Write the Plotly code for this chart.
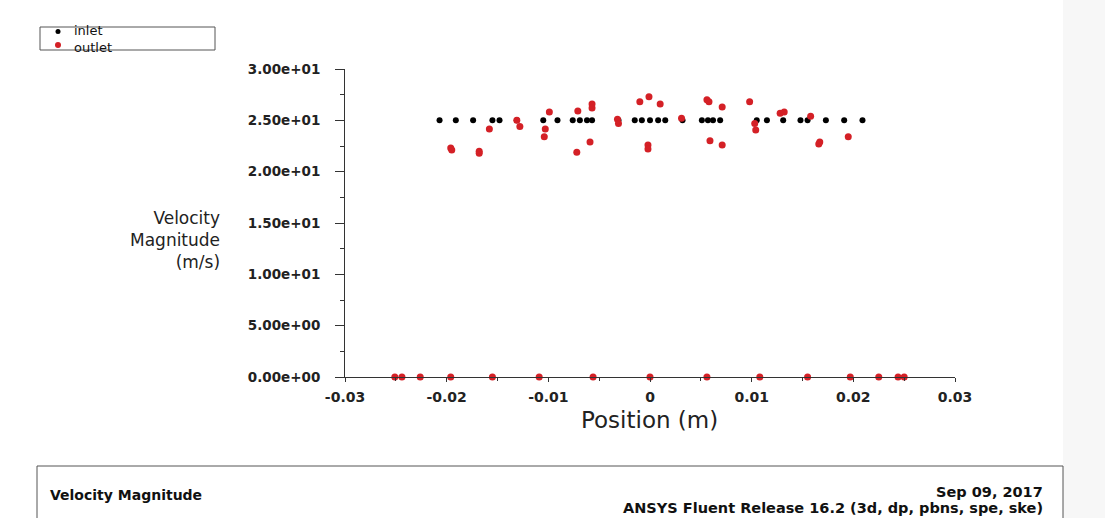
import plotly.graph_objects as go

# ---------------- data ----------------
inlet_x = [-0.0207, -0.0191, -0.0174, -0.0155, -0.0148, -0.0131, -0.0105, -0.0091,
           -0.0076, -0.0069, -0.0062, -0.0057, -0.0031, -0.0015, -0.0008, 0.0,
           0.0008, 0.0015, 0.0032, 0.0051, 0.0057, 0.0062, 0.0069, 0.0105,
           0.0115, 0.0131, 0.0148, 0.0155, 0.0173, 0.0191, 0.0209]
inlet_y = [25.0] * len(inlet_x)

outlet_x = [-0.0251, -0.0244, -0.0226, -0.0196, -0.0155, -0.0109, -0.0056, 0.0,
            0.0056, 0.0108, 0.0155, 0.0197, 0.0225, 0.0244, 0.0250,
            -0.0196, -0.0195, -0.0168, -0.0168, -0.0158, -0.0131, -0.0128, -0.0099,
            -0.0103, -0.0104, -0.0071, -0.0057, -0.0057, -0.0072, -0.0059, -0.0032,
            -0.0031, -0.0010, -0.0001, 0.0010, -0.0002, -0.0002, 0.0031, 0.0056,
            0.0058, 0.0071, 0.0059, 0.0071, 0.0098, 0.0103, 0.0104, 0.0128,
            0.0132, 0.0158, 0.0167, 0.0166, 0.0195]
outlet_y = [0.0, 0.0, 0.0, 0.0, 0.0, 0.0, 0.0, 0.0,
            0.0, 0.0, 0.0, 0.0, 0.0, 0.0, 0.0,
            22.3, 22.1, 22.0, 21.8, 24.15, 25.0, 24.4, 25.8,
            24.15, 23.4, 25.9, 26.6, 26.2, 21.9, 22.9, 25.1,
            24.7, 26.8, 27.3, 26.6, 22.6, 22.2, 25.2, 27.0,
            26.8, 26.3, 23.0, 22.6, 26.8, 24.7, 24.05, 25.7,
            25.8, 25.4, 22.9, 22.7, 23.4]

y_tick_vals = [0, 5, 10, 15, 20, 25, 30]
y_tick_text = ["0.00e+00", "5.00e+00", "1.00e+01", "1.50e+01", "2.00e+01", "2.50e+01", "3.00e+01"]
x_tick_vals = [-0.03, -0.02, -0.01, 0, 0.01, 0.02, 0.03]
x_tick_text = ["-0.03", "-0.02", "-0.01", "0", "0.01", "0.02", "0.03"]

series_names = ["inlet", "outlet"]
series_colors = ["#000000", "#d42026"]
y_title_lines = ["Velocity", "Magnitude", "(m/s)"]

# ---------------- figure ----------------
W, H = 1105, 518
L, R, T, B = 345, 150, 69, 141
PW, PH = W - L - R, H - T - B


def px(x):
    return (x - L) / PW


def py(y):
    return (H - B - y) / PH


FONT = "DejaVu Sans, Liberation Sans, Arial, sans-serif"

fig = go.Figure()
fig.add_trace(go.Scatter(x=inlet_x, y=inlet_y, mode="markers", name=series_names[0],
                         marker=dict(color=series_colors[0], size=6, line=dict(width=0)),
                         cliponaxis=False))
fig.add_trace(go.Scatter(x=outlet_x, y=outlet_y, mode="markers", name=series_names[1],
                         marker=dict(color=series_colors[1], size=7, line=dict(width=0)),
                         cliponaxis=False))

shapes = [
    # faint grey strip at the right edge of the screenshot
    dict(type="rect", xref="paper", yref="paper", x0=px(1063), x1=px(1110), y0=py(-5), y1=py(523),
         fillcolor="#f7f7f7", line=dict(width=0), layer="below"),
    # legend box
    dict(type="rect", xref="paper", yref="paper", x0=px(40), x1=px(215), y0=py(50), y1=py(27),
         line=dict(color="#555555", width=1), fillcolor="rgba(0,0,0,0)"),
    dict(type="circle", xref="paper", yref="paper", x0=px(55.5), x1=px(60.5), y0=py(34), y1=py(29),
         fillcolor=series_colors[0], line=dict(width=0)),
    dict(type="circle", xref="paper", yref="paper", x0=px(55), x1=px(61), y0=py(48), y1=py(42),
         fillcolor=series_colors[1], line=dict(width=0)),
    # bottom info box
    dict(type="rect", xref="paper", yref="paper", x0=px(37), x1=px(1063), y0=py(530), y1=py(466),
         line=dict(color="#555555", width=1), fillcolor="rgba(0,0,0,0)"),
]

annotations = [
    dict(text="<br>".join(series_names), x=px(73), y=py(38.5), xref="paper", yref="paper",
         xanchor="left", yanchor="middle", align="left", showarrow=False, borderpad=0,
         font=dict(family=FONT, size=13, color="#111111")),
    dict(text="<br>".join(y_title_lines), x=px(221), y=py(240), xref="paper", yref="paper",
         xanchor="right", yanchor="middle", align="right", showarrow=False, borderpad=0,
         font=dict(family=FONT, size=17, color="#222222")),
    dict(text="Position (m)", x=px(649), y=py(420), xref="paper", yref="paper",
         xanchor="center", yanchor="middle", showarrow=False,
         font=dict(family=FONT, size=23, color="#222222")),
    dict(text="<b>Velocity Magnitude</b>", x=px(48), y=py(495), xref="paper", yref="paper",
         xanchor="left", yanchor="middle", showarrow=False,
         font=dict(family=FONT, size=14, color="#111111")),
    dict(text="<b>Sep 09, 2017</b>", x=px(1044), y=py(492), xref="paper", yref="paper",
         xanchor="right", yanchor="middle", showarrow=False, borderpad=0,
         font=dict(family=FONT, size=14.5, color="#111111")),
    dict(text="<b>ANSYS Fluent Release 16.2 (3d, dp, pbns, spe, ske)</b>", x=px(1044), y=py(508),
         xref="paper", yref="paper", xanchor="right", yanchor="middle", showarrow=False, borderpad=0,
         font=dict(family=FONT, size=14.5, color="#111111")),
]

fig.update_layout(
    width=W, height=H,
    margin=dict(l=L, r=R, t=T, b=B, pad=0),
    paper_bgcolor="white", plot_bgcolor="white",
    showlegend=False,
    shapes=shapes, annotations=annotations,
    xaxis=dict(range=[-0.03, 0.03], tickvals=x_tick_vals, ticktext=x_tick_text,
               showgrid=False, zeroline=False, showline=True, linecolor="#333333", linewidth=1,
               ticks="outside", ticklen=4, tickcolor="#333333",
               minor=dict(dtick=0.005, tick0=0, ticks="outside", ticklen=3, tickcolor="#333333"),
               tickfont=dict(family=FONT, size=14, color="#222222", weight="bold"),
               ticklabelstandoff=3, fixedrange=True),
    yaxis=dict(range=[0, 30], tickvals=y_tick_vals, ticktext=y_tick_text,
               showgrid=False, zeroline=False, showline=True, linecolor="#333333", linewidth=1,
               ticks="outside", ticklen=9, tickcolor="#333333",
               minor=dict(dtick=2.5, tick0=0, ticks="outside", ticklen=4, tickcolor="#333333"),
               tickfont=dict(family=FONT, size=13.5, color="#222222", weight="bold"),
               ticklabelstandoff=12, fixedrange=True),
)

fig.write_html("out.html")
